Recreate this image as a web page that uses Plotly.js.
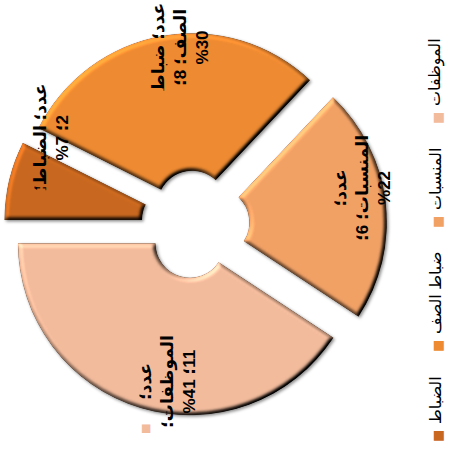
<!DOCTYPE html>
<html>
<head>
<meta charset="utf-8">
<script src="https://cdn.plot.ly/plotly-3.0.1.min.js"></script>
<style>
  html, body { margin: 0; padding: 0; background: #fff; overflow: hidden; width: 451px; height: 450px; }
  /* the chart is laid out upright and turned a quarter turn counter-clockwise */
  #chart { position: absolute; left: 0; top: 0; width: 450px; height: 451px;
           transform-origin: 0 0; transform: translate(0, 450px) rotate(-90deg); }
</style>
</head>
<body>
<div id="chart"></div>
<script>
// ---- data ----
const seriesName = 'عدد';
const categories = ['الموظفات', 'المنسبات', 'ضباط الصف', 'الضباط'];
const counts = [11, 6, 8, 2];

// ---- styling ----
const colors = ['#F2BB9C', '#F2A165', '#EE8A31', '#C8671F'];
const fontFamily = '"Liberation Sans", "DejaVu Sans", sans-serif';
const labelFontSize = 17;
const legendFontSize = 16;
const labelWrapChars = [10, 12, 10, 12];
// label anchor points in paper coordinates
const labelPos = [[0.089, 0.572], [0.595, 0.065], [0.962, 0.538], [0.726, 0.877]];

const W = 450, H = 451;
const margin = { l: 34, r: 33, t: 4, b: 64 };
const plotW = W - margin.l - margin.r, plotH = H - margin.t - margin.b;
const toPaperX = px => (px - margin.l) / plotW;
const toPaperY = py => 1 - (py - margin.t) / plotH;

const total = counts.reduce((a, b) => a + b, 0);
const percents = counts.map(v => Math.round(v / total * 100));

const RLI = '\u2067', LRI = '\u2066', PDI = '\u2069', SEP = '\u061B';

function wrapWords(words, maxChars) {
  const lines = [];
  let cur = '';
  words.forEach(w => {
    const plain = w.replace(/[\u2066-\u2069]/g, '');
    const curPlain = cur.replace(/[\u2066-\u2069]/g, '');
    if (!cur) { cur = w; }
    else if ((curPlain + ' ' + plain).length <= maxChars) { cur += ' ' + w; }
    else { lines.push(cur); cur = w; }
  });
  if (cur) lines.push(cur);
  return lines;
}

const ctx = document.createElement('canvas').getContext('2d');
const lineH = labelFontSize * 1.3;

const annotations = [];

// data labels: series; category; value; percent
categories.forEach((cat, i) => {
  const pctToken = LRI + '%' + percents[i] + PDI;
  const words = (seriesName + SEP + ' ' + cat + SEP + ' ' + counts[i] + SEP).split(' ').concat([pctToken]);
  const lines = wrapWords(words, labelWrapChars[i]);
  ctx.font = 'bold ' + labelFontSize + 'px ' + fontFamily;
  const maxW = Math.max(...lines.map(l => ctx.measureText(l).width));
  annotations.push({
    xref: 'paper', yref: 'paper', x: labelPos[i][0], y: labelPos[i][1],
    xanchor: 'center', yanchor: 'middle', align: 'center', showarrow: false,
    text: lines.map(l => RLI + l + PDI).join('<br>'),
    font: { family: fontFamily, size: labelFontSize, color: '#000', weight: 'bold' }
  });
  // colour key beside the first line of the label
  annotations.push({
    xref: 'paper', yref: 'paper', x: labelPos[i][0], y: labelPos[i][1],
    xanchor: 'right', yanchor: 'middle', showarrow: false,
    xshift: -(maxW / 2 - 6), yshift: (lines.length - 1) / 2 * lineH,
    text: '■', font: { family: 'DejaVu Sans', size: 11, color: colors[i] }
  });
});

// legend along the bottom: key square followed by the category name, last category first
ctx.font = legendFontSize + 'px ' + fontFamily;
const legendY = toPaperY(435);
let cursor = 14;
categories.slice().reverse().forEach((cat, k) => {
  const i = categories.length - 1 - k;
  annotations.push({
    xref: 'paper', yref: 'paper', x: toPaperX(cursor), y: legendY,
    xanchor: 'center', yanchor: 'middle', showarrow: false, yshift: -2,
    text: '■', font: { family: 'DejaVu Sans', size: 13, color: colors[i] }
  });
  const textW = ctx.measureText(cat).width;
  annotations.push({
    xref: 'paper', yref: 'paper', x: toPaperX(cursor + 10), y: legendY,
    xanchor: 'left', yanchor: 'middle', showarrow: false,
    text: RLI + cat + PDI, font: { family: fontFamily, size: legendFontSize, color: '#000' }
  });
  cursor += 10 + textW + 32;
});

// counter-clockwise from 12 o'clock, first category first
const trace = {
  type: 'pie',
  labels: categories,
  values: counts,
  sort: false,
  direction: 'counterclockwise',
  rotation: -360 * counts[0] / total,
  hole: 0.2,
  pull: 0.114,
  marker: { colors: colors, line: { color: 'rgba(140,70,20,0.35)', width: 0.8 } },
  textinfo: 'none',
  hoverinfo: 'none',
  showlegend: false
};

const layout = {
  width: W, height: H,
  margin: Object.assign({ autoexpand: false }, margin),
  paper_bgcolor: '#fff',
  showlegend: false,
  annotations: annotations
};

Plotly.newPlot('chart', [trace], layout, { staticPlot: true, displayModeBar: false }).then(gd => {
  // bevelled edges and a soft drop shadow on the slices
  const svg = gd.querySelector('svg.main-svg');
  const defs = svg.querySelector('defs');
  const NS = 'http://www.w3.org/2000/svg';
  const el = (tag, attrs, parent) => {
    const n = document.createElementNS(NS, tag);
    Object.keys(attrs).forEach(k => n.setAttribute(k, attrs[k]));
    if (parent) parent.appendChild(n);
    return n;
  };
  const f = el('filter', { id: 'sliceBevel', x: '-10%', y: '-10%', width: '120%', height: '120%',
                           'color-interpolation-filters': 'sRGB' }, defs);
  el('feGaussianBlur', { in: 'SourceAlpha', stdDeviation: '2.2', result: 'blur' }, f);
  const light = el('feDiffuseLighting', { in: 'blur', surfaceScale: '4', diffuseConstant: '1',
                                          'lighting-color': '#ffffff', result: 'light' }, f);
  el('feDistantLight', { azimuth: '315', elevation: '52' }, light);
  el('feComposite', { in: 'SourceGraphic', in2: 'light', operator: 'arithmetic',
                      k1: '1.27', k2: '0', k3: '0', k4: '0', result: 'lit' }, f);
  el('feComposite', { in: 'lit', in2: 'SourceAlpha', operator: 'in', result: 'litIn' }, f);
  el('feDropShadow', { in: 'litIn', dx: '-1.5', dy: '1.5', stdDeviation: '1.5',
                       'flood-color': '#000', 'flood-opacity': '0.45' }, f);
  gd.querySelectorAll('g.slice').forEach(s => s.setAttribute('filter', 'url(#sliceBevel)'));
});
</script>
</body>
</html>
